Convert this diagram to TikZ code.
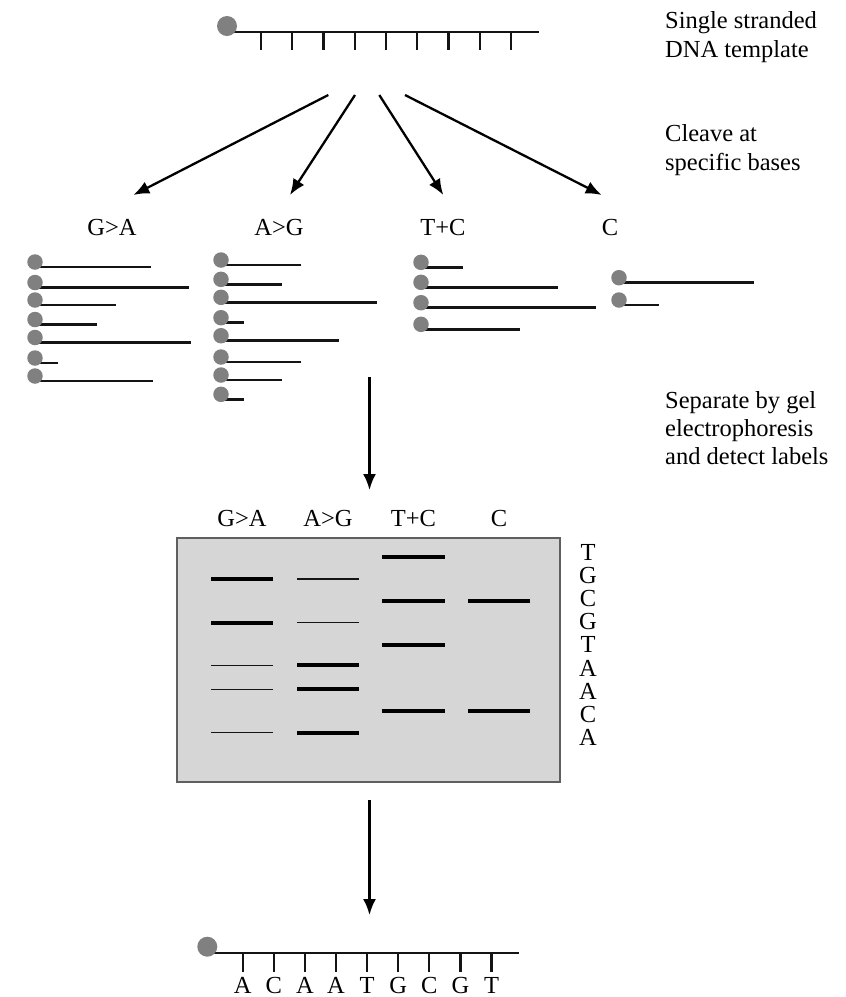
\documentclass[tikz,border=0pt]{standalone}
\usepackage{fontspec}
\setmainfont{Liberation Serif}
\usetikzlibrary{arrows.meta}
\definecolor{beadgray}{RGB}{128,128,128}
\definecolor{gelgray}{RGB}{214,214,214}
\definecolor{gelborder}{RGB}{95,95,95}
\definecolor{inkk}{RGB}{20,20,20}
\tikzset{
  bigbead/.style={circle, fill=beadgray, inner sep=0pt, minimum size=20pt},
  smallbead/.style={circle, fill=beadgray, inner sep=0pt, minimum size=15.5pt},
  backbone/.style={draw=inkk, line width=2.2pt},
  basetick/.style={draw=inkk, line width=2.2pt},
  frag/.style={draw=inkk, line width=2.5pt},
  thickband/.style={draw=black, line width=4.2pt},
  thinband/.style={draw=inkk, line width=1.4pt},
  flow/.style={draw=black, line width=2.3pt, -{Latex[length=16pt,width=13pt]}},
  lbl/.style={font=\fontsize{24.5}{28}\selectfont, inner sep=0pt},
  note/.style={font=\fontsize{24.5}{28}\selectfont, inner sep=0pt, anchor=base west},
}
\begin{document}
\begin{tikzpicture}[x=1pt,y=-1pt]
\useasboundingbox (0,0) rectangle (846,997);

% ---------- top template strand ----------
\draw[backbone] (227,32.3) -- (539,32.3);
\foreach \k in {0,...,8} {
  \draw[basetick] ({261+31.25*\k},32.3) -- ({261+31.25*\k},50);
}
\node[bigbead] (topbead) at (227,26) {};

% ---------- notes on the right ----------
\node[note] (n1) at (665,28) {Single stranded};
\node[note] (n2) at (665,57) {DNA template};
\node[note] (n3) at (665,141) {Cleave at};
\node[note] (n4) at (665,170) {specific bases};
\node[note] (n5) at (665,408) {Separate by gel};
\node[note] (n6) at (665,436) {electrophoresis};
\node[note] (n7) at (665,464) {and detect labels};

% ---------- cleavage arrows ----------
\coordinate (s1) at (328.3,95);  \coordinate (t1) at (133.3,195);
\coordinate (s2) at (355,95);    \coordinate (t2) at (290,195);
\coordinate (s3) at (379.3,95);  \coordinate (t3) at (443.3,195);
\coordinate (s4) at (405,95);    \coordinate (t4) at (601.7,195);
\draw[flow] (s1) -- (t1);
\draw[flow] (s2) -- (t2);
\draw[flow] (s3) -- (t3);
\draw[flow] (s4) -- (t4);

% ---------- reaction labels ----------
\node[lbl, anchor=base] (rGA) at (112,235) {G>A};
\node[lbl, anchor=base] (rAG) at (279,235) {A>G};
\node[lbl, anchor=base] (rTC) at (443,235) {T+C};
\node[lbl, anchor=base] (rC)  at (610,235) {C};

% ---------- fragments ----------
\foreach \i/\ly/\ex in {1/267/151, 2/287.5/189, 3/305/115.7, 4/324.5/96.7, 5/342.5/191.3, 6/363/58.3, 7/381/153.3} {
  \draw[frag] (38,\ly) -- (\ex,\ly);
  \node[smallbead] (ga\i) at (35,\ly-5) {};
}
\foreach \i/\ly/\ex in {1/265/301, 2/284.3/282.3, 3/302.3/377.3, 4/322.7/244.3, 5/340.7/339.3, 6/362/301, 7/380/282.3, 8/399.3/244.3} {
  \draw[frag] (224,\ly) -- (\ex,\ly);
  \node[smallbead] (ag\i) at (221,\ly-5) {};
}
\foreach \i/\ly/\ex in {1/267.3/463.3, 2/287.3/558, 3/307.7/596, 4/329.3/520} {
  \draw[frag] (424,\ly) -- (\ex,\ly);
  \node[smallbead] (tc\i) at (421,\ly-5) {};
}
\foreach \i/\ly/\ex in {1/282.7/754, 2/305/659.3} {
  \draw[frag] (622,\ly) -- (\ex,\ly);
  \node[smallbead] (cc\i) at (619,\ly-5) {};
}

% ---------- arrow to gel ----------
\coordinate (g0) at (369.5,377);
\coordinate (g1) at (369.5,490);
\draw[flow] (g0) -- (g1);

% ---------- gel ----------
\node[lbl, anchor=base] (lGA) at (242,526) {G>A};
\node[lbl, anchor=base] (lAG) at (328,526) {A>G};
\node[lbl, anchor=base] (lTC) at (413.5,526) {T+C};
\node[lbl, anchor=base] (lC)  at (499,526) {C};
\filldraw[fill=gelgray, draw=gelborder, line width=1.8pt] (177,538) rectangle (560,782);

% lanes: 1 = 211-273, 2 = 297-359, 3 = 382-445, 4 = 468-530
\draw[thickband] (382,556.7) -- (445,556.7);
\draw[thickband] (211,579) -- (273,579);
\draw[thinband]  (297,579) -- (359,579);
\draw[thickband] (382,600.7) -- (445,600.7);
\draw[thickband] (468,600.7) -- (530,600.7);
\draw[thickband] (211,622.7) -- (273,622.7);
\draw[thinband]  (297,622.7) -- (359,622.7);
\draw[thickband] (382,645) -- (445,645);
\draw[thinband]  (211,665.3) -- (273,665.3);
\draw[thickband] (297,665.3) -- (359,665.3);
\draw[thinband]  (211,689.3) -- (273,689.3);
\draw[thickband] (297,689.3) -- (359,689.3);
\draw[thickband] (382,710.7) -- (445,710.7);
\draw[thickband] (468,710.7) -- (530,710.7);
\draw[thinband]  (211,732.7) -- (273,732.7);
\draw[thickband] (297,732.7) -- (359,732.7);

% read-off sequence beside the gel
\foreach \b [count=\j from 0] in {T,G,C,G,T,A,A,C,A} {
  \node[lbl, anchor=center] (rd\j) at (588,{552+23.2*\j}) {\b};
}

% ---------- arrow to result ----------
\coordinate (h0) at (369.5,800);
\coordinate (h1) at (369.5,915);
\draw[flow] (h0) -- (h1);

% ---------- bottom strand ----------
\draw[backbone] (207,952.7) -- (519.3,952.7);
\foreach \b [count=\k from 0] in {A,C,A,A,T,G,C,G,T} {
  \draw[basetick] ({242.7+31.1*\k},952.7) -- ({242.7+31.1*\k},971.7);
  \node[lbl, anchor=base] (sq\k) at ({242.7+31.1*\k},993) {\b};
}
\node[bigbead] (botbead) at (207.3,946.7) {};
\end{tikzpicture}
\end{document}
